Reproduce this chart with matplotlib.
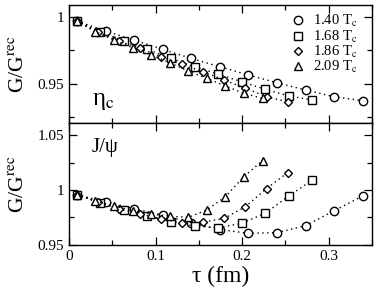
import matplotlib
matplotlib.use("Agg")
import matplotlib.pyplot as plt
from matplotlib.ticker import MultipleLocator, FixedLocator

plt.rcParams['font.family'] = ['Liberation Serif', 'DejaVu Serif']
plt.rcParams['mathtext.fontset'] = 'stix'

# tau values (fm) for each temperature
tau_140 = [0.0093, 0.0423, 0.0753, 0.1083, 0.1413, 0.1743, 0.2073, 0.2403, 0.2733, 0.3063, 0.3393]
tau_168 = [0.0090, 0.0362, 0.0634, 0.0906, 0.1179, 0.1451, 0.1723, 0.1995, 0.2268, 0.2540, 0.2812]
tau_186 = [0.0090, 0.0334, 0.0577, 0.0820, 0.1064, 0.1308, 0.1551, 0.1795, 0.2038, 0.2282, 0.2525]
tau_209 = [0.0090, 0.0305, 0.0519, 0.0734, 0.0948, 0.1163, 0.1378, 0.1592, 0.1807, 0.2021, 0.2236]

# eta_c ratios
eta_140 = [0.997, 0.9895, 0.9828, 0.9758, 0.9690, 0.9628, 0.9566, 0.9508, 0.9454, 0.9404, 0.9374]
eta_168 = [0.997, 0.9890, 0.9820, 0.9758, 0.9690, 0.9628, 0.9573, 0.9516, 0.9459, 0.9409, 0.9379]
eta_186 = [0.997, 0.9888, 0.9820, 0.9766, 0.9703, 0.9646, 0.9590, 0.9528, 0.9466, 0.9404, 0.9366]
eta_209 = [0.997, 0.9890, 0.9828, 0.9770, 0.9716, 0.9658, 0.9596, 0.9541, 0.9484, 0.9429, 0.9391]

# J/psi ratios
jpsi_140 = [0.9955, 0.9893, 0.9828, 0.9770, 0.9700, 0.9638, 0.9604, 0.9610, 0.9674, 0.9810, 0.9945]
jpsi_168 = [0.9955, 0.9884, 0.9817, 0.9762, 0.9710, 0.9670, 0.9655, 0.9695, 0.9787, 0.9945, 1.0091]
jpsi_186 = [0.9955, 0.9890, 0.9826, 0.9780, 0.9735, 0.9701, 0.9705, 0.9741, 0.9847, 1.0012, 1.0158]
jpsi_209 = [0.9955, 0.9900, 0.9854, 0.9810, 0.9780, 0.9760, 0.9750, 0.9817, 0.9939, 1.0122, 1.0268]

labels = ['1.40 T$_{\\rm c}$', '1.68 T$_{\\rm c}$', '1.86 T$_{\\rm c}$', '2.09 T$_{\\rm c}$']
markers = ['o', 's', 'D', '^']
msizes = [6.0, 5.2, 4.2, 5.8]

fig = plt.figure(figsize=(3.74, 2.95), dpi=100)
ax1 = fig.add_axes([0.1845, 0.583, 0.810, 0.400])
ax2 = fig.add_axes([0.1845, 0.1695, 0.810, 0.4136])

taus = [tau_140, tau_168, tau_186, tau_209]
for ax, data in ((ax1, [eta_140, eta_168, eta_186, eta_209]),
                 (ax2, [jpsi_140, jpsi_168, jpsi_186, jpsi_209])):
    for t, y, m, ms, lab in zip(taus, data, markers, msizes, labels):
        ax.plot(t, y, linestyle=(0, (1, 2.5)), color='black', linewidth=1.0,
                marker=m, markersize=ms, markerfacecolor='white',
                markeredgecolor='black', markeredgewidth=1.0, label=lab)

for ax in (ax1, ax2):
    ax.set_xlim(0, 0.35)
    ax.xaxis.set_major_locator(MultipleLocator(0.1))
    ax.xaxis.set_minor_locator(MultipleLocator(0.05))
    ax.tick_params(which='both', direction='in', top=True, right=True,
                   labelsize=11, width=0.9)
    ax.tick_params(which='major', length=6)
    ax.tick_params(which='minor', length=3.5)
    for s in ax.spines.values():
        s.set_linewidth(1.0)
    ax.set_ylabel('G/G$^{\\rm rec}$', fontsize=15.5)

ax1.set_ylim(0.9207, 1.009)
ax1.yaxis.set_major_locator(FixedLocator([0.95, 1.0]))
ax1.yaxis.set_minor_locator(FixedLocator([0.925, 0.975]))
ax1.set_yticklabels(['0.95', '1'])
ax1.tick_params(labelbottom=False)

ax2.set_ylim(0.9497, 1.0612)
ax2.yaxis.set_major_locator(FixedLocator([0.95, 1.0, 1.05]))
ax2.yaxis.set_minor_locator(FixedLocator([0.975, 1.025]))
ax2.set_yticklabels(['0.95', '1', '1.05'])
ax2.set_xticks([0, 0.1, 0.2, 0.3])
ax2.set_xticklabels(['0', '0.1', '0.2', '0.3'])
ax2.set_xlabel('τ (fm)', fontsize=17, labelpad=2)

ax1.yaxis.set_label_coords(-0.135, 0.5)
ax2.yaxis.set_label_coords(-0.135, 0.5)

ax1.text(0.075, 0.09, 'η$_{\\rm c}$', transform=ax1.transAxes, fontsize=18,
         ha='left', va='bottom')
ax2.text(0.075, 0.72, 'J/ψ', transform=ax2.transAxes, fontsize=15,
         ha='left', va='bottom')

leg = ax1.legend(loc='upper left', bbox_to_anchor=(0.733, 0.93), frameon=False,
                 fontsize=10.5, handlelength=1.0, handletextpad=0.5,
                 labelspacing=-0.05, borderaxespad=0, borderpad=0)
for h in leg.legend_handles:
    h.set_linestyle('None')

fig.savefig('out.png', dpi=100)
